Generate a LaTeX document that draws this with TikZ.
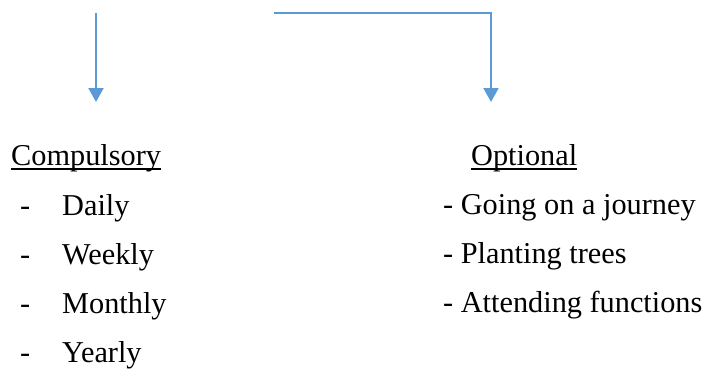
\documentclass[tikz,border=0pt]{standalone}
\usepackage{fontspec}
\setmainfont{Liberation Serif}
\usepackage{xcolor}
\usepackage{tikz}
\usetikzlibrary{arrows.meta,positioning,calc}
\definecolor{flow}{HTML}{5B9BD5}
\definecolor{ink}{HTML}{000000}

\begin{document}
\begin{tikzpicture}[x=1pt,y=-1pt,
  txt/.style={inner sep=0pt,anchor=base west,text=ink,
              font=\fontsize{30.3}{36}\selectfont},
  arr/.style={-{Triangle[width=15pt,length=14pt]},draw=flow,line width=2pt},
  ul/.style={draw=ink,line width=1.6pt}
]
\useasboundingbox (0,0) rectangle (704,369);
% arrows
\coordinate (lstart) at (96,13);
\coordinate (lend) at (96,102);
\coordinate (rstart) at (274,13);
\coordinate (rend) at (491,102);
\draw[arr] (lstart) -- (lend);
\draw[arr] (rstart) -| (rend);
% compulsory
\node[txt] (comp) at (11,165) {Compulsory};
\draw[ul] ([yshift=-4pt]comp.base west) -- ([yshift=-4pt]comp.base east);
\node[txt] (d1) at (20,215) {-};
\node[txt] (daily) at (62,215) {Daily};
\node[txt] (d2) at (20,264) {-};
\node[txt] (weekly) at (62,264) {Weekly};
\node[txt] (d3) at (20,313) {-};
\node[txt] (monthly) at (62,313) {Monthly};
\node[txt] (d4) at (20,362) {-};
\node[txt] (yearly) at (62,362) {Yearly};
% optional
\node[txt] (opt) at (471,165) {Optional};
\draw[ul] ([yshift=-4pt]opt.base west) -- ([yshift=-4pt]opt.base east);
\node[txt] (journey) at (443,214) {- Going on a journey};
\node[txt] (trees) at (443,263) {- Planting trees};
\node[txt] (funcs) at (443,312) {- Attending functions};
\end{tikzpicture}
\end{document}
